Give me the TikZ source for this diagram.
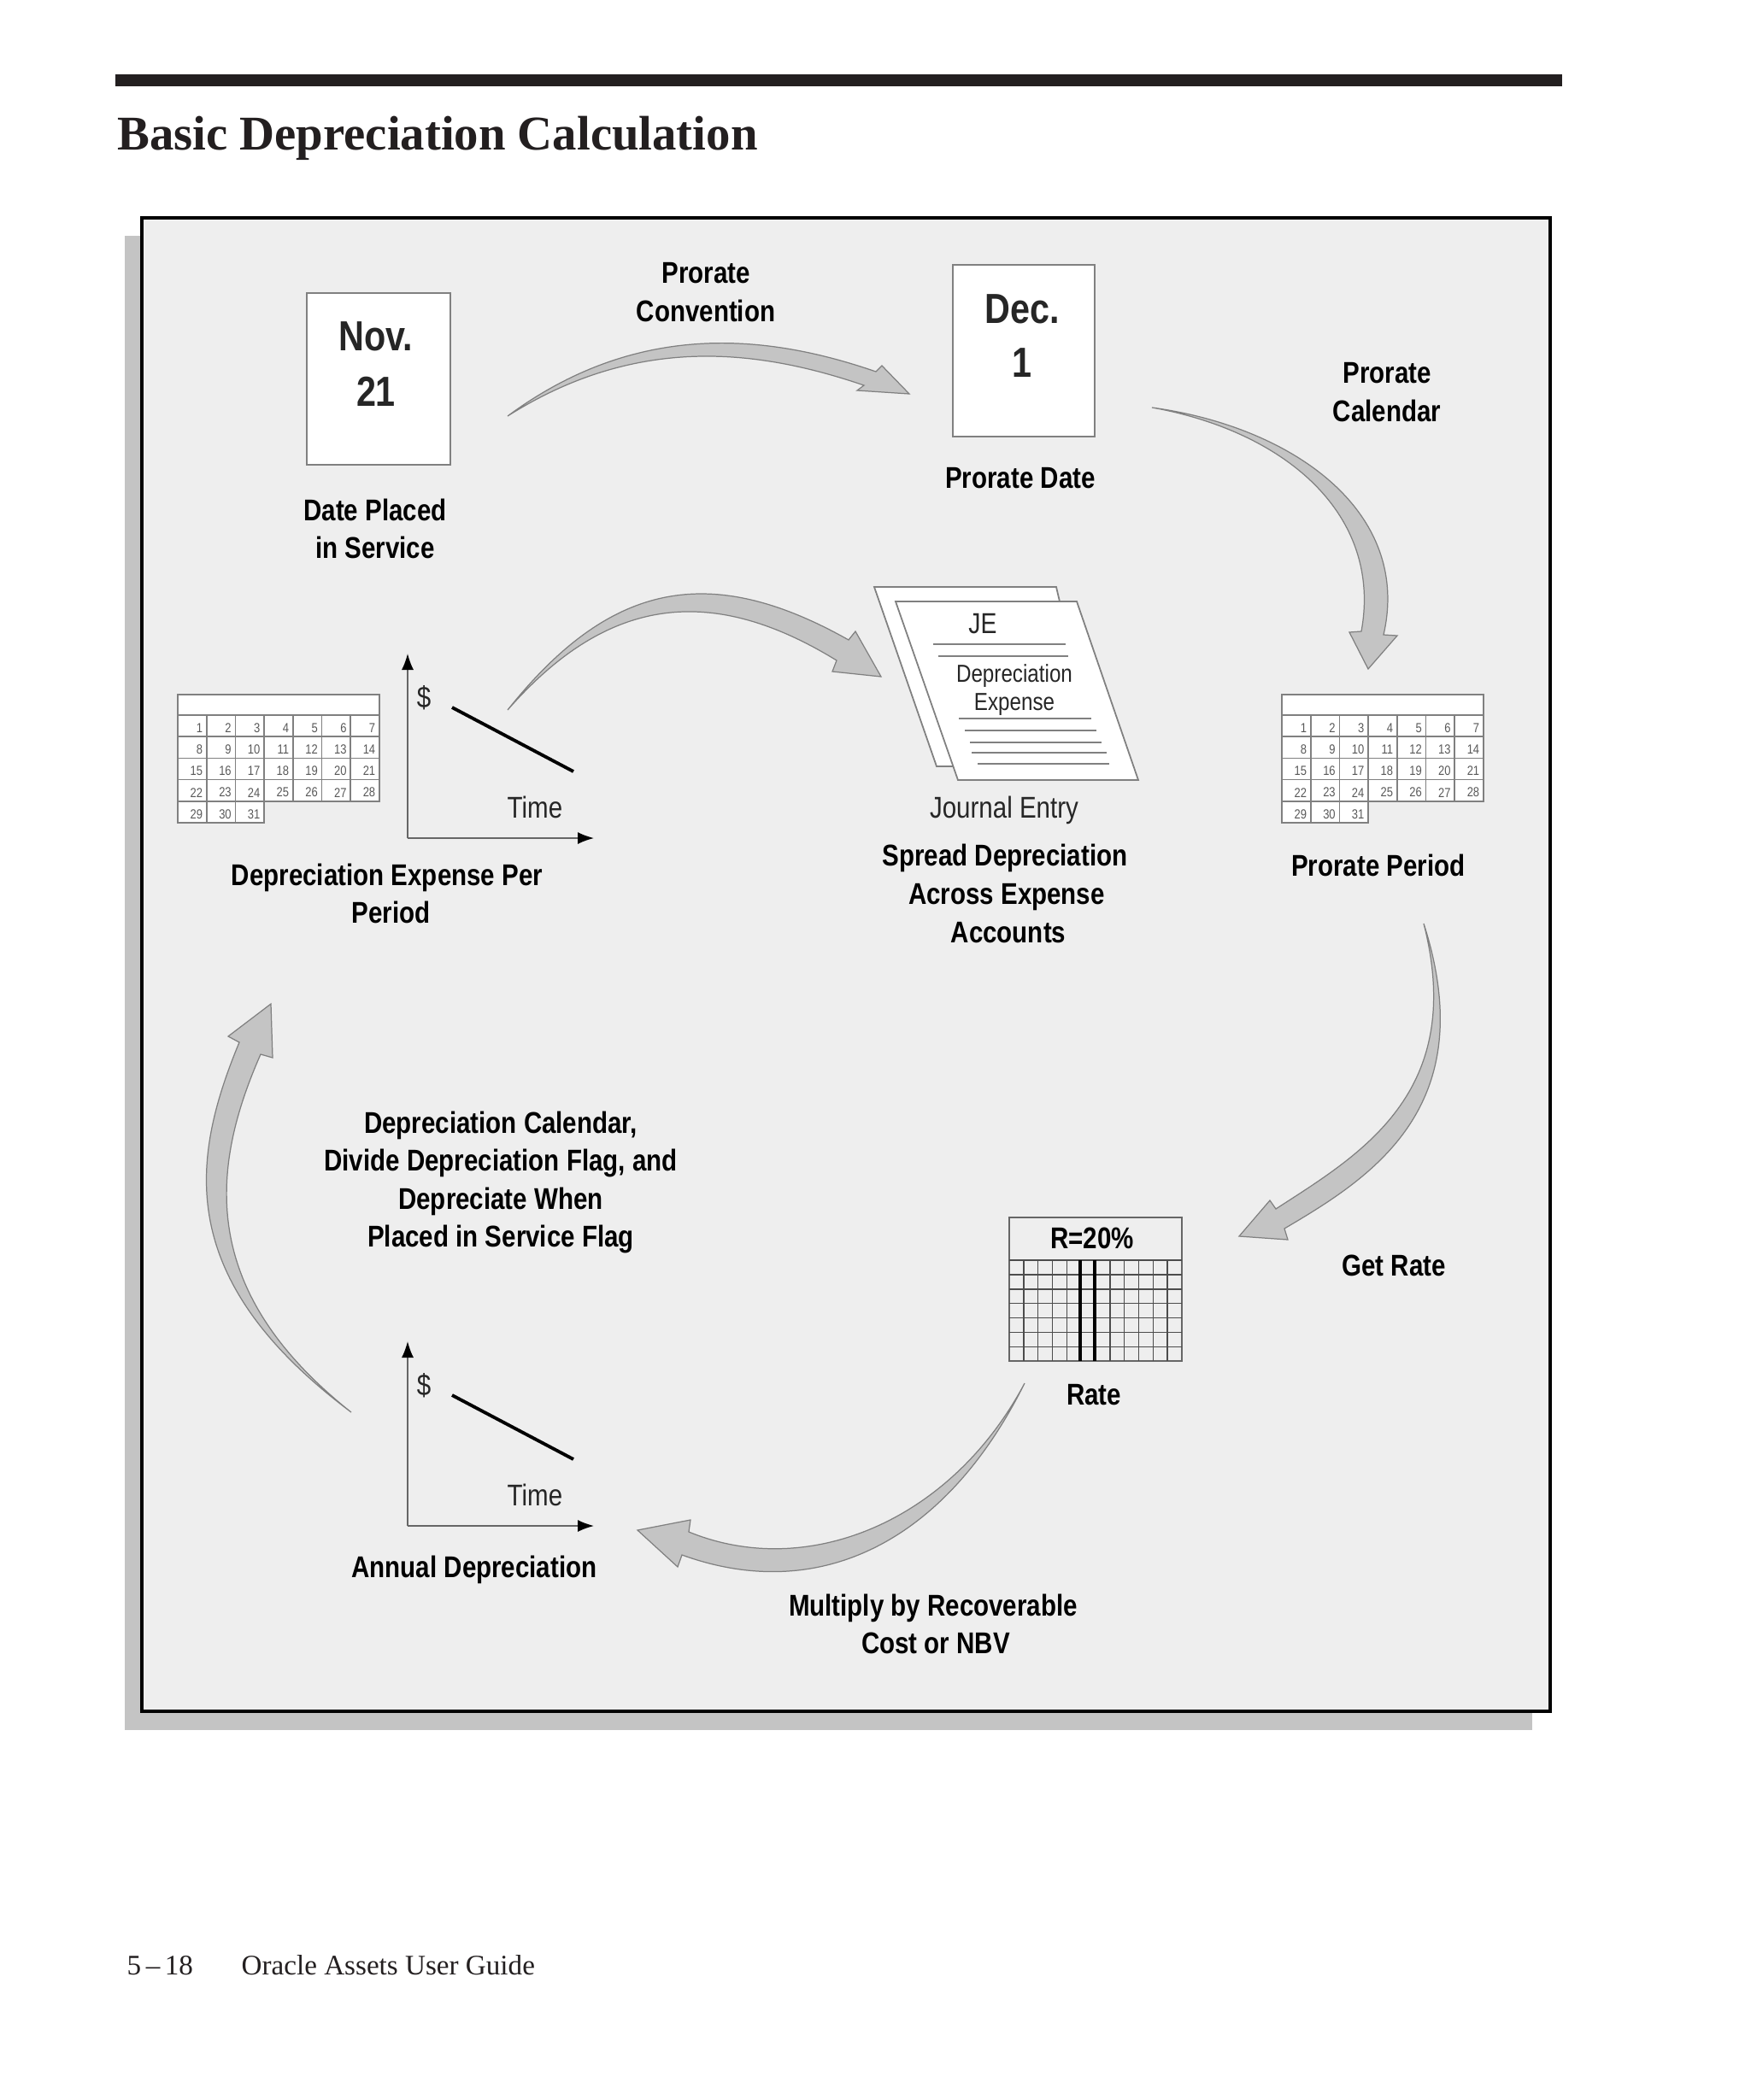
\documentclass[tikz,border=0pt]{standalone}
\usepackage{fontspec}
\usetikzlibrary{arrows.meta}
\setmainfont{Liberation Serif}
\newfontfamily\figfont[FakeStretch=0.84]{Liberation Sans}
\definecolor{panelgray}{HTML}{EEEEEE}
\definecolor{shadowgray}{HTML}{C4C4C4}
\definecolor{inkblack}{HTML}{231F20}
\definecolor{linegray}{HTML}{808080}
\tikzset{
  lbl/.style={align=center, inner sep=0pt, text=black, font=\figfont\bfseries\fontsize{10}{12.7}\selectfont},
  plainlbl/.style={align=center, inner sep=0pt, text=black!85, font=\figfont\fontsize{10}{12}\selectfont},
  biglbl/.style={inner sep=0pt, text=black!85, font=\figfont\bfseries\fontsize{14}{16}\selectfont},
  daynum/.style={anchor=east, inner sep=0pt, text=black!65, font=\figfont\fontsize{4.4}{5}\selectfont},
  sheet/.style={draw=linegray, fill=white, line width=0.5pt, inner sep=0pt},
  ruled/.style={draw=linegray, line width=0.5pt},
  bentarrow/.style={draw=linegray, fill=shadowgray, line width=0.35pt, line join=miter},
  axisline/.style={draw=black!60, line width=0.45pt, -{Latex[length=0.19cm,width=0.14cm,black]}},
  monthgrid/.pic={
    \filldraw[ruled, fill=white] (0,0) -- (2.36,0) -- (2.36,-1.248) -- (1.011,-1.248) -- (1.011,-1.50) -- (0,-1.50) -- cycle;
    \foreach \r in {1,2,3,4} \draw[ruled] (0,-0.24-0.252*\r+0.252) -- (2.36,-0.24-0.252*\r+0.252);
    \draw[ruled] (0,-1.248) -- (2.36,-1.248);
    \foreach \c in {1,2,3} \draw[ruled] (0.337*\c,-0.24) -- (0.337*\c,-1.50);
    \foreach \c in {4,5,6} \draw[ruled] (0.337*\c,-0.24) -- (0.337*\c,-1.248);
    \foreach \n in {1,...,31} {
      \pgfmathtruncatemacro{\cx}{mod(\n-1,7)+1}
      \pgfmathtruncatemacro{\ry}{int((\n-1)/7)}
      \node[daynum, name=d\n] at (0.337*\cx-0.04,-0.39-0.252*\ry) {\n};
    }
  },
  dollargraph/.pic={
    \coordinate (corner) at (0,0);
    \coordinate (ytip) at (0,2.16);
    \coordinate (xtip) at (2.18,0);
    \draw[axisline] (corner) -- (ytip);
    \draw[axisline] (corner) -- (xtip);
    \draw[line width=1.1pt, black] (0.52,1.53) -- (1.94,0.78);
    \node[plainlbl] (dollar) at (0.19,1.64) {\$};
    \node[plainlbl] (time) at (1.49,0.36) {Time};
  }
}
\begin{document}
\begin{tikzpicture}
\useasboundingbox (0,0) rectangle (20.48,-24.58);
\fill[white] (0,0) rectangle (20.48,-24.58);
\fill[inkblack] (1.35,-0.87) rectangle (18.28,-1.01);
\node[anchor=base west, inner sep=0pt, text=inkblack, font=\bfseries\fontsize{16.15}{18}\selectfont] (title) at (1.365,-1.755) {Basic Depreciation Calculation};
\fill[shadowgray] (1.46,-2.76) rectangle (17.93,-20.25);
\filldraw[draw=black, fill=panelgray, line width=1pt] (1.66,-2.55) rectangle (18.14,-20.03);
% top row
\node[sheet, minimum width=1.68cm, minimum height=2.01cm] (novcard) at (4.43,-4.435) {};
\node[biglbl] (novtext) at (4.40,-3.94) {Nov.};
\node[biglbl] (daytext) at (4.40,-4.58) {21};
\node[lbl] (placed) at (4.39,-6.19) {Date Placed\\in Service};
\node[sheet, minimum width=1.66cm, minimum height=2.01cm] (deccard) at (11.98,-4.105) {};
\node[biglbl] (dectext) at (11.96,-3.62) {Dec.};
\node[biglbl] (onetext) at (11.96,-4.25) {1};
\node[lbl] (prodate) at (11.94,-5.60) {Prorate Date};
\node[lbl] (convention) at (8.26,-3.42) {Prorate\\Convention};
\node[lbl] (calendar) at (16.23,-4.59) {Prorate\\Calendar};
% journal entry sheets
\filldraw[sheet] (10.23,-6.87) -- (12.36,-6.87) -- (12.40,-7.04) -- (11.15,-8.97) -- (10.96,-8.97) -- cycle;
\filldraw[sheet] (10.48,-7.04) -- (12.60,-7.04) -- (13.32,-9.13) -- (11.21,-9.13) -- cycle;
\node[plainlbl, font=\figfont\fontsize{9.6}{11}\selectfont] (je) at (11.50,-7.30) {JE};
\draw[ruled] (10.92,-7.54) -- (12.47,-7.54);
\draw[ruled] (10.98,-7.68) -- (12.50,-7.68);
\node[plainlbl, font=\figfont\fontsize{8.2}{9.4}\selectfont] (jeexp) at (11.87,-8.08) {Depreciation\\Expense};
\draw[ruled] (11.22,-8.41) -- (12.77,-8.41);
\draw[ruled] (11.29,-8.55) -- (12.83,-8.55);
\draw[ruled] (11.35,-8.69) -- (12.89,-8.69);
\draw[ruled] (11.37,-8.81) -- (12.95,-8.81);
\draw[ruled] (11.44,-8.94) -- (12.98,-8.94);
\node[plainlbl] (journal) at (11.75,-9.48) {Journal Entry};
\node[lbl] (spread) at (11.76,-10.46) {Spread Depreciation\\\hspace{0.04cm}Across Expense\\\hspace{0.08cm}Accounts};
% calendars and graphs
\pic (calleft) at (2.08,-8.13) {monthgrid};
\pic (calright) at (15.00,-8.13) {monthgrid};
\pic (graphtop) at (4.77,-9.81) {dollargraph};
\pic (graphlow) at (4.77,-17.86) {dollargraph};
\node[lbl] (expper) at (4.53,-10.46) {Depreciation Expense Per\\\hspace{0.09cm}Period};
\node[lbl] (proper) at (16.13,-10.13) {Prorate Period};
\node[lbl] (annual) at (5.55,-18.37) {Annual Depreciation};
\node[lbl] (flags) at (5.86,-13.84) {Depreciation Calendar,\\Divide Depreciation Flag, and\\Depreciate When\\Placed in Service Flag};
% rate table
\draw[draw=black!60, line width=0.6pt] (11.81,-14.25) rectangle (13.83,-15.93);
\foreach \r in {0,...,6} \draw[draw=black!70, line width=0.4pt] (11.81,-14.75-0.169*\r) -- (13.83,-14.75-0.169*\r);
\foreach \c in {1,...,11} \draw[draw=black!70, line width=0.4pt] (11.81+0.1683*\c,-14.75) -- (11.81+0.1683*\c,-15.93);
\draw[black, line width=1.15pt] (12.64,-14.75) -- (12.64,-15.93);
\draw[black, line width=1.15pt] (12.81,-14.75) -- (12.81,-15.93);
\node[lbl] (ratehead) at (12.78,-14.49) {R=20\%};
\node[lbl] (rate) at (12.80,-16.33) {Rate};
\node[lbl] (getrate) at (16.31,-14.81) {Get Rate};
\node[lbl] (multiply) at (10.92,-19.01) {Multiply by Recoverable\\\hspace{0.06cm}Cost or NBV};
% curved arrows
\coordinate (aone) at (5.94,-4.87);
\coordinate (bone) at (10.64,-4.61);
\filldraw[bentarrow] (aone) .. controls (7.44,-3.76) and (8.95,-3.90) .. (10.25,-4.35) -- (10.32,-4.28) -- (bone) -- (10.03,-4.57) -- (10.11,-4.51) .. controls (8.85,-4.08) and (7.44,-3.92) .. (aone) -- cycle;
\coordinate (atwo) at (13.48,-4.77);
\coordinate (btwo) at (16.01,-7.83);
\filldraw[bentarrow] (atwo) .. controls (15.15,-5.00) and (16.52,-6.00) .. (16.19,-7.43) -- (16.35,-7.44) -- (btwo) -- (15.79,-7.40) -- (15.93,-7.39) .. controls (16.18,-6.03) and (15.05,-5.05) .. (atwo) -- cycle;
\coordinate (athree) at (5.94,-8.31);
\coordinate (bthree) at (10.31,-7.92);
\filldraw[bentarrow] (athree) .. controls (7.12,-6.83) and (8.28,-6.56) .. (9.93,-7.49) -- (10.01,-7.39) -- (bthree) -- (9.74,-7.86) -- (9.79,-7.73) .. controls (8.26,-6.79) and (7.06,-7.03) .. (athree) -- cycle;
\coordinate (afour) at (16.66,-10.81);
\coordinate (bfour) at (14.50,-14.47);
\filldraw[bentarrow] (afour) .. controls (17.35,-12.96) and (16.05,-13.78) .. (15.03,-14.38) -- (15.07,-14.51) -- (bfour) -- (14.86,-14.05) -- (14.93,-14.15) .. controls (15.90,-13.52) and (17.17,-12.80) .. (afour) -- cycle;
\coordinate (afive) at (11.99,-16.19);
\coordinate (bfive) at (7.46,-17.91);
\filldraw[bentarrow] (afive) .. controls (11.06,-18.06) and (9.58,-18.78) .. (7.98,-18.20) -- (7.93,-18.34) -- (bfive) -- (8.08,-17.79) -- (8.06,-17.93) .. controls (9.45,-18.50) and (11.13,-17.81) .. (afive) -- cycle;
\coordinate (asix) at (4.11,-16.53);
\coordinate (bsix) at (3.17,-11.75);
\filldraw[bentarrow] (asix) .. controls (2.03,-14.97) and (2.23,-13.58) .. (2.80,-12.20) -- (2.67,-12.13) -- (bsix) -- (3.19,-12.38) -- (3.05,-12.34) .. controls (2.45,-13.70) and (2.33,-15.12) .. (asix) -- cycle;
% page foot
\node[anchor=base west, inner sep=0pt, text=inkblack, font=\fontsize{9.43}{11}\selectfont] (pageno) at (1.48,-23.11) {5\,--\,18};
\node[anchor=base west, inner sep=0pt, text=inkblack, font=\fontsize{9.43}{11}\selectfont] (guide) at (2.82,-23.11) {Oracle Assets User Guide};
\end{tikzpicture}
\end{document}
